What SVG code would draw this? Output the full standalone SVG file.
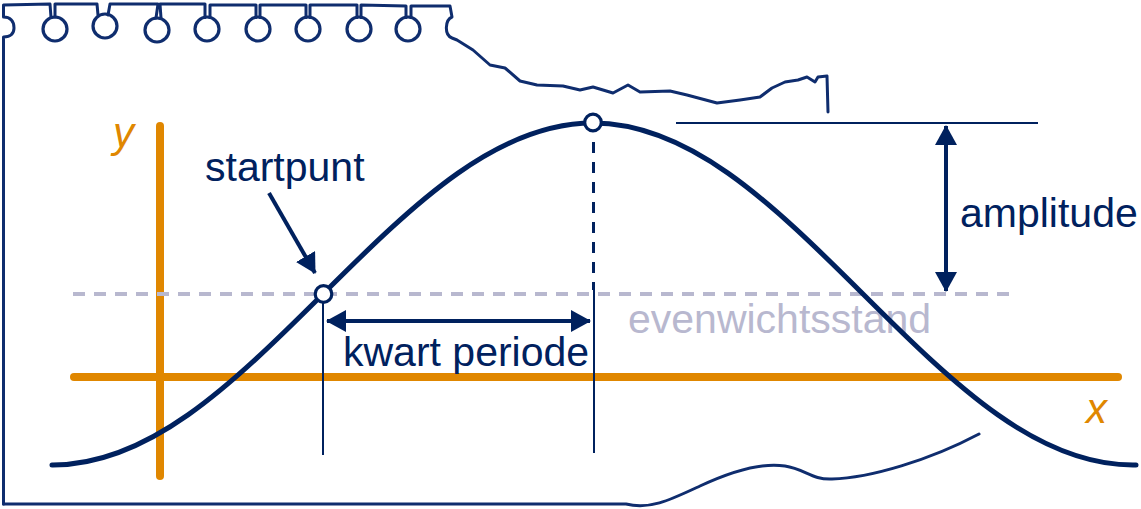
<svg xmlns="http://www.w3.org/2000/svg" width="1141" height="509" viewBox="0 0 1141 509">
<style>
.nb{fill:none;stroke:#0f2d6e;stroke-width:3;stroke-linejoin:round;stroke-linecap:round}
.ring{fill:none;stroke:#0f2d6e;stroke-width:3.2}
.axis{stroke:#e08700;stroke-width:8;stroke-linecap:round;fill:none}
.eq{stroke:#b8b8cf;stroke-width:4;stroke-dasharray:12 9;fill:none}
.nv{stroke:#00215e;fill:none}
.lbl{font-family:"Liberation Sans",Arial,sans-serif;font-size:41px;fill:#00215e}
.ax{font-family:"Liberation Sans",Arial,sans-serif;font-size:42px;font-style:italic;fill:#e08700}
.pt{fill:#fff;stroke:#00215e;stroke-width:3.2}
</style>
<defs>
<marker id="ah" viewBox="0 0 20 22" refX="19" refY="11" markerWidth="20" markerHeight="22" markerUnits="userSpaceOnUse" orient="auto-start-reverse">
<path d="M0,0 L20,11 L0,22 z" fill="#00215e"/>
</marker>
</defs>

<g id="notebook">
<path class="nb" d="M3.5,504 L3.5,37 C11,37 14,33 14,28 C14,21 10,17 3.5,17 L3.5,5 L50,4 L51,17.5 M55,17 L55,4 L97,4 L98,15 M108,15 L110,4 L158,4 L156,18 M161,18 L160,4 L205,4 L205,17.5 M210,17.5 L210,5 L256,5 L256,17.5 M260,17.5 L260,5 L306,5 L306,17.5 M310,17.5 L310,5 L357,5 L357,17.5 M361,17.5 L361,5 L406,6 L406,17.5 M411,17.5 L411,6 L450,6 L452,17 C445,20 444,35 452,38 L457,40 L473,50 L490,65 L505,68 L520,81 L537,85 L563,86 L580,90 L593,87 L613,93 L628,85 L640,92 L670,91 L687,95 L717,103 L740,100 L760,97 L772,88 L785,82 L798,80 L807,77 L815,82 L818,77 L827,76 L828,112"/>
<circle class="ring" cx="55" cy="29" r="12"/>
<circle class="ring" cx="105" cy="26" r="12"/>
<circle class="ring" cx="157" cy="30" r="12"/>
<circle class="ring" cx="207" cy="29" r="12"/>
<circle class="ring" cx="258" cy="29" r="12"/>
<circle class="ring" cx="308" cy="29" r="12"/>
<circle class="ring" cx="359" cy="29" r="12"/>
<circle class="ring" cx="408" cy="29" r="12"/>
<path class="nb" d="M3.5,504 L626,504 C650,510 670,500 700,486 C730,472 760,462 785,466 C805,469 812,480 832,479 C870,478 930,460 979,434"/>
</g>

<g id="axes">
<line class="axis" x1="160" y1="126" x2="160" y2="476"/>
<line class="axis" x1="74" y1="377" x2="1118" y2="377"/>
<text class="ax" x="113" y="147">y</text>
<text class="ax" x="1086" y="423">x</text>
</g>

<g id="equilibrium">
<line class="eq" x1="73" y1="294" x2="1016" y2="294"/>
<text class="lbl" x="628" y="333" style="fill:#b8b8cf">evenwichtsstand</text>
</g>

<g id="connectors">
<line class="nv" x1="323" y1="294" x2="323" y2="455" stroke-width="2"/>
<line class="nv" x1="594" y1="290" x2="594" y2="453" stroke-width="2"/>
<line class="nv" x1="593.5" y1="142" x2="593.5" y2="290" stroke-width="3" stroke-dasharray="11 9"/>
<line class="nv" x1="327" y1="321" x2="590" y2="321" stroke-width="4" marker-start="url(#ah)" marker-end="url(#ah)"/>
<line class="nv" x1="676" y1="123" x2="1038" y2="123" stroke-width="2"/>
<line class="nv" x1="946" y1="126" x2="946" y2="291" stroke-width="4" marker-start="url(#ah)" marker-end="url(#ah)"/>
<line class="nv" x1="269" y1="193" x2="315" y2="273" stroke-width="4" marker-end="url(#ah)"/>
</g>

<g id="curve">
<path class="nv" stroke-width="5" stroke-linecap="round" d="M52,465 L53,465 C98,465 143,446.6 188,414.9 C233,383.2 278,338.8 323,294 C368,249.2 413,204.8 458,173.1 C503,141.4 548,123 593,123 C638,123 683,141.4 728,173.1 C773,204.8 818,249.2 863,294 C908,338.8 953,383.2 998,414.9 C1043,446.6 1088,465 1133,465 L1136,465"/>
</g>

<g id="startpunt">
<circle class="pt" cx="323.5" cy="294" r="8.3"/>
<text class="lbl" x="205" y="181">startpunt</text>
</g>
<g id="top">
<circle class="pt" cx="593" cy="122.5" r="8.3"/>
</g>
<g id="kwart">
<text class="lbl" x="343" y="366">kwart periode</text>
</g>
<g id="amplitude">
<text class="lbl" x="960" y="227">amplitude</text>
</g>
</svg>
